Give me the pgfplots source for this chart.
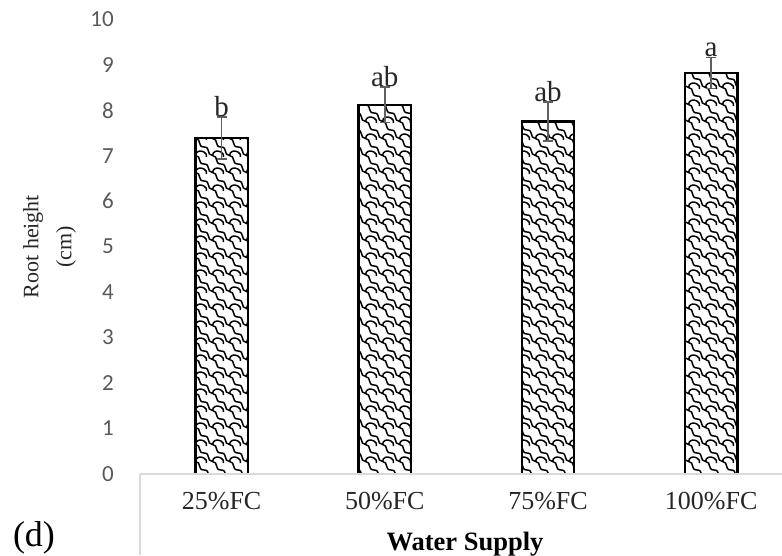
\documentclass[border=0pt]{standalone}
\usepackage{fontspec}
\setmainfont{Liberation Serif}
\newfontfamily\carlito{Carlito}
\usepackage{pgfplots}
\usepackage{pgfplotstable}
\pgfplotsset{compat=1.18}
\usetikzlibrary{patterns}
\definecolor{tickgray}{HTML}{595959}
\definecolor{axisgray}{HTML}{D9D9D9}
\definecolor{errgray}{HTML}{606060}
\definecolor{txt}{HTML}{262626}

\pgfdeclarepatternformonly{scales}{\pgfqpoint{-1pt}{-1pt}}{\pgfqpoint{18pt}{18pt}}{\pgfqpoint{17pt}{17pt}}{%
  \pgfsetlinewidth{1.5pt}%
  \pgfpathmoveto{\pgfqpoint{0pt}{17pt}}%
  \pgfpathcurveto{\pgfqpoint{7pt}{17pt}}{\pgfqpoint{2pt}{9pt}}{\pgfqpoint{8.5pt}{8.5pt}}%
  \pgfpathcurveto{\pgfqpoint{15pt}{8pt}}{\pgfqpoint{10pt}{0pt}}{\pgfqpoint{17pt}{0pt}}%
  \pgfusepath{stroke}%
  \pgfpathmoveto{\pgfqpoint{8.5pt}{8.5pt}}%
  \pgfpathcurveto{\pgfqpoint{9pt}{13pt}}{\pgfqpoint{13pt}{14pt}}{\pgfqpoint{17pt}{12pt}}%
  \pgfusepath{stroke}%
  \pgfpathmoveto{\pgfqpoint{0pt}{12pt}}%
  \pgfpathcurveto{\pgfqpoint{2pt}{11pt}}{\pgfqpoint{3pt}{9pt}}{\pgfqpoint{2.5pt}{7pt}}%
  \pgfusepath{stroke}%
}

\pgfplotstableread{
x y err top lab
0 7.39 0.46 7.85 b
1 8.12 0.39 8.51 ab
2 7.75 0.43 8.18 ab
3 8.82 0.34 9.16 a
}\data

\begin{document}
\begin{tikzpicture}
\begin{axis}[
  scale only axis, width=642pt, height=454.7pt,
  xmin=-0.5, xmax=3.434, ymin=0, ymax=10,
  axis line style={draw=none},
  clip=false,
  major tick length=0pt,
  tick style={draw=none},
  ytick={0,1,...,10},
  xtick={0,1,2,3},
  xticklabels={25\%FC,50\%FC,75\%FC,100\%FC},
  /pgf/number format/assume math mode=true,
  yticklabel style={font=\carlito\fontsize{23}{23}\selectfont, text=tickgray, anchor=east, inner sep=0pt, xshift=-26pt},
  xticklabel style={font=\fontsize{26}{26}\selectfont, text=txt, anchor=center, inner sep=0pt, yshift=-27pt},
  xlabel={\textbf{Water Supply}},
  xlabel style={at={(axis description cs:0,0)}, anchor=center, xshift=325pt, yshift=-70pt, font=\fontsize{26.5}{26.5}\selectfont, text=black},
]
\addplot[ybar, bar width=52.5pt, draw=black, line width=2.4pt, pattern=scales, pattern color=black,
  error bars/.cd, y dir=both, y explicit,
  error bar style={line width=1.8pt, errgray},
  error mark options={rotate=90, mark size=5pt, line width=1.8pt, errgray}]
  table[x=x, y=y, y error=err] {\data};
\addplot[draw=none, mark=none, nodes near coords, point meta=explicit symbolic,
  every node near coord/.style={anchor=base, inner sep=0pt, yshift=1pt, font=\fontsize{29}{29}\selectfont, text=txt}]
  table[x=x, y=top, meta=lab] {\data};
\draw[axisgray, line width=1.6pt] (rel axis cs:0,0) -- (rel axis cs:1,0);
\draw[axisgray, line width=1.6pt] (rel axis cs:0,0) -- ++(0pt,-81pt);
\node[font=\fontsize{36}{36}\selectfont, text=black] at (rel axis cs:0,0) [xshift=-106pt, yshift=-64pt] {(d)};
\node[xshift=-90.5pt, rotate=90, align=center, font=\fontsize{22}{33}\selectfont, text=txt] at (rel axis cs:0,0.5) {Root height\\(cm)};
\end{axis}
\pgfresetboundingbox
\path ([shift={(-140pt,-81pt)}]current axis.south west) rectangle ([shift={(642pt,474pt)}]current axis.south west);
\end{tikzpicture}
\end{document}
